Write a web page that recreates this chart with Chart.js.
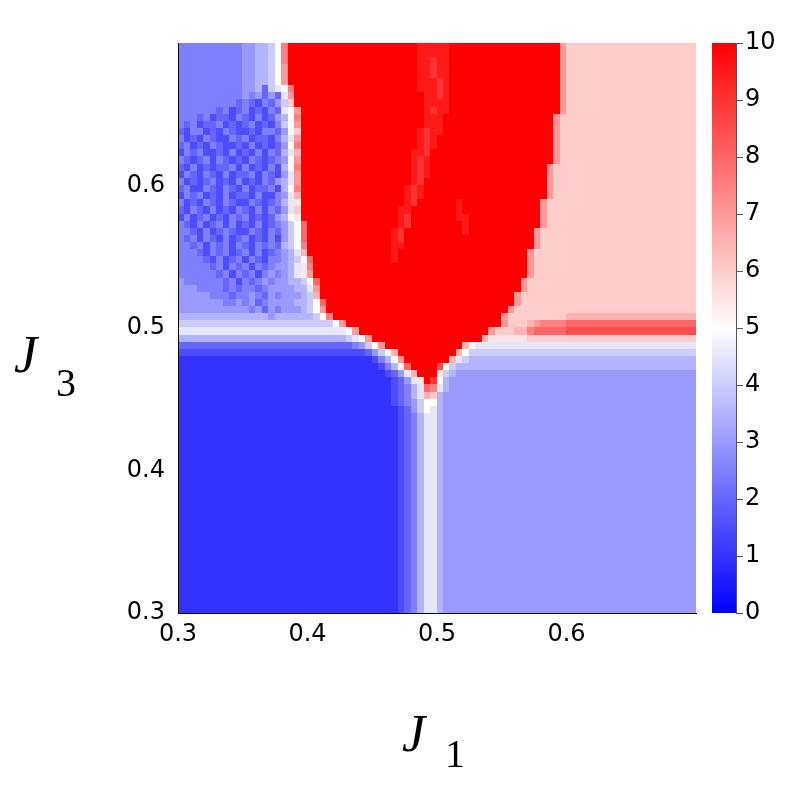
<!DOCTYPE html>
<html>
<head>
<meta charset="utf-8">
<script src="https://cdn.jsdelivr.net/npm/chart.js@4.4.1/dist/chart.umd.min.js"></script>
<style>
body { margin:0; background:#fff; }
</style>
</head>
<body>
<canvas id="grafico" width="799" height="800"></canvas>
<script>
// bordo sinistro di ogni colonna (J1)
var J1 = [0.300,0.305,0.310,0.315,0.320,0.325,0.330,0.335,0.340,0.345,
          0.350,0.355,0.360,0.365,0.370,0.375,0.380,0.385,0.390,0.395,
          0.400,0.405,0.410,0.415,0.420,0.425,0.430,0.435,0.440,0.445,
          0.450,0.455,0.460,0.465,0.470,0.475,0.480,0.485,0.490,0.495,
          0.500,0.505,0.510,0.515,0.520,0.525,0.530,0.535,0.540,0.545,
          0.550,0.555,0.560,0.565,0.570,0.575,0.580,0.585,0.590,0.595,
          0.600,0.605,0.610,0.615,0.620,0.625,0.630,0.635,0.640,0.645,
          0.650,0.655,0.660,0.665,0.670,0.675,0.680,0.685,0.690,0.695];
// bordo superiore di ogni riga (J3), dall'alto in basso
var J3 = [0.700,0.695,0.690,0.685,0.680,0.675,0.670,0.665,0.660,0.655,
          0.650,0.645,0.640,0.635,0.630,0.625,0.620,0.615,0.610,0.605,
          0.600,0.595,0.590,0.585,0.580,0.575,0.570,0.565,0.560,0.555,
          0.550,0.545,0.540,0.535,0.530,0.525,0.520,0.515,0.510,0.505,
          0.500,0.495,0.490,0.485,0.480,0.475,0.470,0.465,0.460,0.455,
          0.450,0.445,0.440,0.435,0.430,0.425,0.420,0.415,0.410,0.405,
          0.400,0.395,0.390,0.385,0.380,0.375,0.370,0.365,0.360,0.355,
          0.350,0.345,0.340,0.335,0.330,0.325,0.320,0.315,0.310,0.305];
var PASSO = 0.005;

// a=0, b=0.5, c=1 ... u=10 (passo 0.5)
var LIVELLI = "abcdefghijklmnopqrstu";

// valori, una stringa per riga (gruppi di 10 colonne)
var RIGHE = [
"ffffffffff gghhikpuuu uuuuuuuuuu uuuuuuuttt ttuuuuuuuu uuuuuuuuuo mmmmmmmmmm mmmmmmmmmm",
"ffffffffff gghhikpuuu uuuuuuuuuu uuuuuuuttt ttuuuuuuuu uuuuuuuuuo mmmmmmmmmm mmmmmmmmmm",
"ffffffffff gghhikpuuu uuuuuuuuuu uuuuuuutts ttuuuuuuuu uuuuuuuuuo mmmmmmmmmm mmmmmmmmmm",
"ffffffffff gghhikouuu uuuuuuuuuu uuuuuuutts ttuuuuuuuu uuuuuuuuuo mmmmmmmmmm mmmmmmmmmm",
"ffffffffff gghhikouuu uuuuuuuuuu uuuuuuutts ttuuuuuuuu uuuuuuuuuo mmmmmmmmmm mmmmmmmmmm",
"ffffffffff gghhikouuu uuuuuuuuuu uuuuuuuttt stuuuuuuuu uuuuuuuuuo mmmmmmmmmm mmmmmmmmmm",
"ffffffffff ggheijkpuu uuuuuuuuuu uuuuuuuttt stuuuuuuuu uuuuuuuuuo mmmmmmmmmm mmmmmmmmmm",
"ffffffffff gfgegejouu uuuuuuuuuu uuuuuuuutt stuuuuuuuu uuuuuuuuuo mmmmmmmmmm mmmmmmmmmm",
"fffffffffe fedfegimuu uuuuuuuuuu uuuuuuuutt ttuuuuuuuu uuuuuuuuuo mmmmmmmmmm mmmmmmmmmm",
"ffffffefde fdedfejkou uuuuuuuuuu uuuuuuuuts ttuuuuuuuu uuuuuuuuuo mmmmmmmmmm mmmmmmmmmm",
"fffefdeedf edfdeghkpu uuuuuuuuuu uuuuuuuutt tuuuuuuuuu uuuuuuuuom mmmmmmmmmm mmmmmmmmmm",
"fefdeefded efdedfikou uuuuuuuuuu uuuuuuuutt tuuuuuuuuu uuuuuuuuom mmmmmmmmmm mmmmmmmmmm",
"edffdedfed dedffegkmu uuuuuuuuuu uuuuuuutst tuuuuuuuuu uuuuuuuuom mmmmmmmmmm mmmmmmmmmm",
"fdedfeddfe fdeedfhjou uuuuuuuuuu uuuuuuutst uuuuuuuuuu uuuuuuuuom mmmmmmmmmm mmmmmmmmmm",
"efdedfedde dfdedegkpu uuuuuuuuuu uuuuuuutst uuuuuuuuuu uuuuuuuuom mmmmmmmmmm mmmmmmmmmm",
"dfefddedfd edfdfehjnu uuuuuuuuuu uuuuuuttsu uuuuuuuuuu uuuuuuuuom mmmmmmmmmm mmmmmmmmmm",
"fedefdfede dfedefgkou uuuuuuuuuu uuuuuutstu uuuuuuuuuu uuuuuuuuom mmmmmmmmmm mmmmmmmmmm",
"edfdedeefd fdedfdhkpu uuuuuuuuuu uuuuuutstu uuuuuuuuuu uuuuuuuomm mmmmmmmmmm mmmmmmmmmm",
"dfedfedfde efdfedgjou uuuuuuuuuu uuuuuutstu uuuuuuuuuu uuuuuuuomm mmmmmmmmmm mmmmmmmmmm",
"fdedefdedf dedfeghjou uuuuuuuuuu uuuuuutsuu uuuuuuuuuu uuuuuuuomm mmmmmmmmmm mmmmmmmmmm",
"efddfedfed fdeefdhkpu uuuuuuuuuu uuuuutstuu uuuuuuuuuu uuuuuuuomm mmmmmmmmmm mmmmmmmmmm",
"dfefdedfde edfddfgjnu uuuuuuuuuu uuuuutstuu uuuuuuuuuu uuuuuuuomm mmmmmmmmmm mmmmmmmmmm",
"fdedfedfed dfedefhjlu uuuuuuuuuu uuuuutsuuu uuutuuuuuu uuuuuuommm mmmmmmmmmm mmmmmmmmmm",
"edfedfdedf edfdfegjmu uuuuuuuuuu uuuuttuuuu uuutuuuuuu uuuuuuommm mmmmmmmmmm mmmmmmmmmm",
"dfdefdedfe fdedeghklu uuuuuuuuuu uuuutsuuuu uuuttuuuuu uuuuuuommm mmmmmmmmmm mmmmmmmmmm",
"fedfdefdfd edfdefgikq uuuuuuuuuu uuuutsuuuu uuuutuuuuu uuuuuuommm mmmmmmmmmm mmmmmmmmmm",
"ffedfdefed dfedfegikq uuuuuuuuuu uuutsuuuuu uuuutuuuuu uuuuuommmm mmmmmmmmmm mmmmmmmmmm",
"fefdfedfde fdedfdgikq uuuuuuuuuu uuutsuuuuu uuuuuuuuuu uuuuuommmm mmmmmmmmmm mmmmmmmmmm",
"ffefdfefdf edfefehikp uuuuuuuuuu uuuttuuuuu uuuuuuuuuu uuuuuommmm mmmmmmmmmm mmmmmmmmmm",
"fffedfefde fdfdefghjn uuuuuuuuuu uuutuuuuuu uuuuuuuuuu uuuuommmmm mmmmmmmmmm mmmmmmmmmm",
"ffffedfdef dfedffghik quuuuuuuuu uuutuuuuuu uuuuuuuuuu uuuuommmmm mmmmmmmmmm mmmmmmmmmm",
"fffffefdfe fdfefgghjl puuuuuuuuu uuuuuuuuuu uuuuuuuuuu uuuuommmmm mmmmmmmmmm mmmmmmmmmm",
"ffffffefdf efdfgfghjl ouuuuuuuuu uuuuuuuuuu uuuuuuuuuu uuuuommmmm mmmmmmmmmm mmmmmmmmmm",
"gffffffefd fefgfgghhi kquuuuuuuu uuuuuuuuuu uuuuuuuuuu uuuommmmmm mmmmmmmmmm mmmmmmmmmm",
"gggffffefe ffefgggghh jouuuuuuuu uuuuuuuuuu uuuuuuuuuu uuuommmmmm mmmmmmmmmm mmmmmmmmmm",
"gggggfffef fgfegfgggh inuuuuuuuu uuuuuuuuuu uuuuuuuuuu uuommmmmmm mmmmmmmmmm mmmmmmmmmm",
"gggggggffg fgefgggghh ikquuuuuuu uuuuuuuuuu uuuuuuuuuu uuommmmmmm mmmmmmmmmm mmmmmmmmmm",
"gggggggggg gfgegfgggh ikouuuuuuu uuuuuuuuuu uuuuuuuuuu uommmmmmmm mmmmmmmmmm mmmmmmmmmm",
"hhhhhhhhhh hhhhghhhhh hikpuuuuuu uuuuuuuuuu uuuuuuuuuu ommmmmmmmm nnnnnnnnnn nnnnnnnnnn",
"iiiiiiiiii iiiiiiiiii iiiikouuuu uuuuuuuuuu uuuuuuuuuu ommmnopppp qqqqqqqqqq qqqqqqqqqq",
"jjjjjjjjjj jjjjjjjjjj jjjjjjkouu uuuuuuuuuu uuuuuuuuom mmnnpqqqqq rrrrrrrrrr rrrrrrrrrr",
"hhhhhhhhhh hhhhhhhhhh hhhhhhijko uuuuuuuuuu uuuuuuunll llllmmmmmm mmmmmmmmmm mmmmmmmmmm",
"eeeeeeeeee eeeeeeeeee eeeeeeefgi kouuuuuuuu uuuunkjjjj jjjjjjjjjj jjjjjjjjjj jjjjjjjjjj",
"dddddddddd dddddddddd ddddddddde giknuuuuuu uuunkiiiii iiiiiiiiii iiiiiiiiii iiiiiiiiii",
"cccccccccc cccccccccc cccccccccc dfhkouuuuu uunjihhhhh hhhhhhhhhh hhhhhhhhhh hhhhhhhhhh",
"cccccccccc cccccccccc cccccccccc cdfhkquuuu rkihhhhhhh hhhhhhhhhh hhhhhhhhhh hhhhhhhhhh",
"cccccccccc cccccccccc cccccccccc ccdegjnuuu lihggggggg gggggggggg gggggggggg gggggggggg",
"cccccccccc cccccccccc cccccccccc cccdegjlus khgggggggg gggggggggg gggggggggg gggggggggg",
"cccccccccc cccccccccc cccccccccc cccdefhjqp jhgggggggg gggggggggg gggggggggg gggggggggg",
"cccccccccc cccccccccc cccccccccc cccdefhjnm hggggggggg gggggggggg gggggggggg gggggggggg",
"cccccccccc cccccccccc cccccccccc cccdefgikk hggggggggg gggggggggg gggggggggg gggggggggg",
"cccccccccc cccccccccc cccccccccc ccccdegikj hggggggggg gggggggggg gggggggggg gggggggggg",
"cccccccccc cccccccccc cccccccccc ccccdefhjj hggggggggg gggggggggg gggggggggg gggggggggg",
"cccccccccc cccccccccc cccccccccc ccccdefhjj hggggggggg gggggggggg gggggggggg gggggggggg",
"cccccccccc cccccccccc cccccccccc ccccdefhjj hggggggggg gggggggggg gggggggggg gggggggggg",
"cccccccccc cccccccccc cccccccccc ccccdefhjj hggggggggg gggggggggg gggggggggg gggggggggg",
"cccccccccc cccccccccc cccccccccc ccccdefhjj hggggggggg gggggggggg gggggggggg gggggggggg",
"cccccccccc cccccccccc cccccccccc ccccdefhjj hggggggggg gggggggggg gggggggggg gggggggggg",
"cccccccccc cccccccccc cccccccccc ccccdefhjj hggggggggg gggggggggg gggggggggg gggggggggg",
"cccccccccc cccccccccc cccccccccc ccccdefhjj hggggggggg gggggggggg gggggggggg gggggggggg",
"cccccccccc cccccccccc cccccccccc ccccdefhjj hggggggggg gggggggggg gggggggggg gggggggggg",
"cccccccccc cccccccccc cccccccccc ccccdefhjj hggggggggg gggggggggg gggggggggg gggggggggg",
"cccccccccc cccccccccc cccccccccc ccccdefhjj hggggggggg gggggggggg gggggggggg gggggggggg",
"cccccccccc cccccccccc cccccccccc ccccdefhjj hggggggggg gggggggggg gggggggggg gggggggggg",
"cccccccccc cccccccccc cccccccccc ccccdefhjj hggggggggg gggggggggg gggggggggg gggggggggg",
"cccccccccc cccccccccc cccccccccc ccccdefhjj hggggggggg gggggggggg gggggggggg gggggggggg",
"cccccccccc cccccccccc cccccccccc ccccdefhjj hggggggggg gggggggggg gggggggggg gggggggggg",
"cccccccccc cccccccccc cccccccccc ccccdefhjj hggggggggg gggggggggg gggggggggg gggggggggg",
"cccccccccc cccccccccc cccccccccc ccccdefhjj hggggggggg gggggggggg gggggggggg gggggggggg",
"cccccccccc cccccccccc cccccccccc ccccdefhjj hggggggggg gggggggggg gggggggggg gggggggggg",
"cccccccccc cccccccccc cccccccccc ccccdefhjj hggggggggg gggggggggg gggggggggg gggggggggg",
"cccccccccc cccccccccc cccccccccc ccccdefhjj hggggggggg gggggggggg gggggggggg gggggggggg",
"cccccccccc cccccccccc cccccccccc ccccdefhjj hggggggggg gggggggggg gggggggggg gggggggggg",
"cccccccccc cccccccccc cccccccccc ccccdefhjj hggggggggg gggggggggg gggggggggg gggggggggg",
"cccccccccc cccccccccc cccccccccc ccccdefhjj hggggggggg gggggggggg gggggggggg gggggggggg",
"cccccccccc cccccccccc cccccccccc ccccdefhjj hggggggggg gggggggggg gggggggggg gggggggggg",
"cccccccccc cccccccccc cccccccccc ccccdefhjj hggggggggg gggggggggg gggggggggg gggggggggg",
"cccccccccc cccccccccc cccccccccc ccccdefhjj hggggggggg gggggggggg gggggggggg gggggggggg",
"cccccccccc cccccccccc cccccccccc ccccdefhjj hggggggggg gggggggggg gggggggggg gggggggggg",
"cccccccccc cccccccccc cccccccccc ccccdefhjj hggggggggg gggggggggg gggggggggg gggggggggg"
];

var TICK_J1 = [0.3, 0.4, 0.5, 0.6];
var TICK_J3 = [0.3, 0.4, 0.5, 0.6];
var TICK_BARRA = [0, 1, 2, 3, 4, 5, 6, 7, 8, 9, 10];

var FONT_TICK = { family: "DejaVu Sans", size: 24 };

// mappa colori blu-bianco-rosso, 0..10
function colore(v){
    var t = Math.max(0, Math.min(10, v)) / 5;
    if (t <= 1) {
        var c = Math.round(255 * t);
        return "rgb(" + c + "," + c + ",255)";
    }
    var c2 = Math.round(255 * (2 - t));
    return "rgb(255," + c2 + "," + c2 + ")";
}

// niente margini extra dovuti alle etichette
function senzaPadding(s){
    s.paddingTop = 0; s.paddingBottom = 0;
    s.paddingLeft = 0; s.paddingRight = 0;
}

var pluginMappa = {
    id: "mappa",
    beforeDraw: function(chart){
        var ctx = chart.ctx;
        var sx = chart.scales.x, sy = chart.scales.y;
        ctx.save();
        for (var r = 0; r < RIGHE.length; r++) {
            var riga = RIGHE[r].replaceAll(" ", "");
            var y0 = Math.floor(sy.getPixelForValue(J3[r]));
            var y1 = Math.ceil(sy.getPixelForValue(J3[r] - PASSO));
            for (var c = 0; c < riga.length; c++) {
                var x0 = Math.floor(sx.getPixelForValue(J1[c]));
                var x1 = Math.ceil(sx.getPixelForValue(J1[c] + PASSO));
                ctx.fillStyle = colore(LIVELLI.indexOf(riga[c]) * 0.5);
                ctx.fillRect(x0, y0, x1 - x0, y1 - y0);
            }
        }
        ctx.restore();
    },
    afterDraw: function(chart){
        var ctx = chart.ctx;
        var sb = chart.scales.barra;
        var area = chart.chartArea;
        //barra dei colori
        var xb0 = area.right + 16, larg = 24;
        var yTop = sb.getPixelForValue(10), yBot = sb.getPixelForValue(0);
        ctx.save();
        var grad = ctx.createLinearGradient(0, yBot, 0, yTop);
        grad.addColorStop(0, colore(0));
        grad.addColorStop(0.5, colore(5));
        grad.addColorStop(1, colore(10));
        ctx.fillStyle = grad;
        ctx.fillRect(xb0, yTop, larg, yBot - yTop);
        ctx.strokeStyle = "#555";
        ctx.lineWidth = 1;
        ctx.beginPath();
        ctx.moveTo(xb0 + larg + 0.5, yTop);
        ctx.lineTo(xb0 + larg + 0.5, yBot);
        for (var i = 0; i < TICK_BARRA.length; i++) {
            var yt = Math.round(sb.getPixelForValue(TICK_BARRA[i])) + 0.5;
            ctx.moveTo(xb0 + larg, yt);
            ctx.lineTo(xb0 + larg + 7, yt);
        }
        ctx.stroke();

        //titoli degli assi
        ctx.fillStyle = "#000";
        ctx.textBaseline = "alphabetic";
        ctx.font = 'italic 52px "Liberation Serif"';
        ctx.fillText("J", 402, 751);
        ctx.fillText("J", 14, 372);
        ctx.font = '40px "Liberation Serif"';
        ctx.fillText("1", 445, 767);
        ctx.fillText("3", 56, 396);
        ctx.restore();
    }
};

window.onload = function(){
    var canvas = document.getElementById("grafico");
    var grafico = new Chart(canvas, {
        type: "scatter",
        data: { datasets: [{ data: [], pointRadius: 0 }] },
        options: {
            responsive: false,
            animation: false,
            devicePixelRatio: 1,
            layout: { padding: { top: 43, left: 0, right: 0, bottom: 67 } },
            plugins: { legend: { display: false }, tooltip: { enabled: false } },
            scales: {
                x: {
                    type: "linear", min: 0.3, max: 0.7,
                    afterBuildTicks: function(s){ s.ticks = TICK_J1.map(function(v){ return { value: v }; }); },
                    afterFit: function(s){ s.height = 120; senzaPadding(s); },
                    grid: { display: false, drawTicks: false },
                    border: { display: true, color: "#000", width: 1 },
                    ticks: { font: FONT_TICK, color: "#000", padding: 7, maxRotation: 0,
                             callback: function(v){ return v.toFixed(1); } }
                },
                y: {
                    type: "linear", min: 0.3, max: 0.7,
                    afterBuildTicks: function(s){ s.ticks = TICK_J3.map(function(v){ return { value: v }; }); },
                    afterFit: function(s){ s.width = 178; senzaPadding(s); },
                    grid: { display: false, drawTicks: false },
                    border: { display: true, color: "#000", width: 1 },
                    ticks: { font: FONT_TICK, color: "#000", padding: 13,
                             callback: function(v){ return v.toFixed(1); } }
                },
                barra: {
                    type: "linear", position: "right", min: 0, max: 10,
                    afterBuildTicks: function(s){ s.ticks = TICK_BARRA.map(function(v){ return { value: v }; }); },
                    afterFit: function(s){ s.width = 103; senzaPadding(s); },
                    grid: { display: false, drawTicks: false },
                    border: { display: false },
                    ticks: { font: FONT_TICK, color: "#000", padding: 49,
                             callback: function(v){ return String(v); } }
                }
            }
        },
        plugins: [pluginMappa]
    });
};
</script>
</body>
</html>
